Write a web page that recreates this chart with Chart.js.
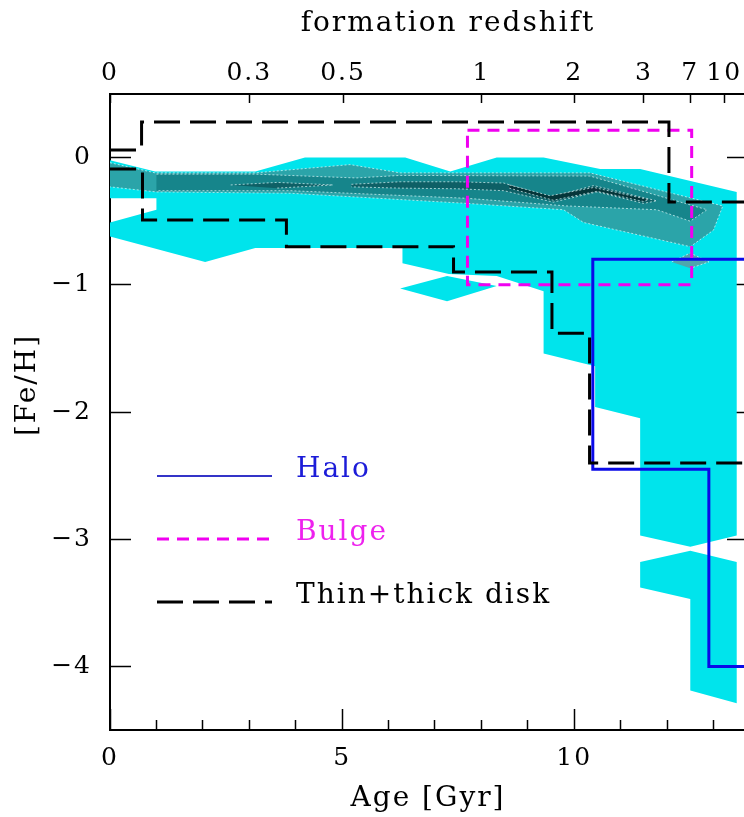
<!DOCTYPE html>
<html lang="en">
<head>
<meta charset="UTF-8" />
<title>[Fe/H] versus age</title>
<script src="https://cdn.jsdelivr.net/npm/chart.js"></script>
<style>
  html, body { margin: 0; padding: 0; background: #fff; overflow: hidden; }
  .wrap { width: 744px; height: 817px; overflow: hidden; }
  canvas { display: block; }
</style>
</head>
<body>
<div class="wrap"><canvas id="fehChart" width="748" height="817"></canvas></div>

<script>
  // axes
  const ageTicks = [0, 1, 2, 3, 4, 5, 6, 7, 8, 9, 10, 11, 12, 13];
  const ageMajor = [0, 5, 10];
  const fehTicks = [-4, -3, -2, -1, 0];
  const fehTickLabels = ['−4', '−3', '−2', '−1', '0'];
  // formation redshift marks, placed at the matching age
  const zAges = [0, 3.0, 5.02, 8.0, 10.0, 11.5, 12.5, 13.23];
  const zLabels = ['0', '0.3', '0.5', '1', '2', '3', '7', '10'];

  // simulated stars, outer contour level (age, [Fe/H])
  const simOuter = [[0, -0.02], [0.97, -0.11], [3.13, -0.11], [4.2, 0.0], [6.36, 0.0], [7.33, -0.11],
    [8.33, 0.0], [9.34, 0.0], [10.56, -0.09], [11.42, -0.09], [13.5, -0.27], [13.5, -2.97],
    [12.5, -3.06], [11.42, -2.97], [11.42, -2.05], [10.45, -1.96], [10.45, -1.64], [9.34, -1.54],
    [9.34, -1.05], [8.33, -0.93], [7.3, -0.915], [6.3, -0.83], [6.3, -0.71], [3.13, -0.71],
    [2.05, -0.82], [0, -0.62], [0, -0.51], [1.0, -0.41], [1.0, -0.32], [0, -0.32]];
  const simOuterIsle = [[6.25, -1.03], [7.26, -0.93], [8.33, -1.01], [7.26, -1.13]];
  const simOuterTail = [[11.42, -3.18], [12.5, -3.09], [13.5, -3.18], [13.5, -4.29], [12.5, -4.19],
    [12.5, -3.47], [11.42, -3.38]];
  // inner contour levels
  const simLevel1 = [[0, -0.04], [0.97, -0.12], [3.13, -0.12], [5.17, -0.055], [6.25, -0.12],
    [10.34, -0.12], [13.2, -0.38], [13.0, -0.57], [12.5, -0.70], [10.2, -0.51], [9.77, -0.41],
    [7.69, -0.36], [3.88, -0.28], [1.0, -0.27], [0, -0.23]];
  const simLevel1Spot = [[12.1, -0.82], [12.5, -0.75], [12.9, -0.82], [12.5, -0.87]];
  const simLevel2 = [[1.0, -0.13], [3.13, -0.13], [5.3, -0.16], [6.25, -0.14], [10.34, -0.145],
    [12.86, -0.41], [12.5, -0.50], [11.78, -0.41], [9.84, -0.38], [7.69, -0.32], [3.88, -0.26],
    [1.0, -0.26]];
  const simLevel3 = [[5.2, -0.21], [6.25, -0.19], [7.47, -0.19], [8.48, -0.20], [9.48, -0.31],
    [10.42, -0.22], [11.78, -0.34], [11.49, -0.36], [10.49, -0.27], [9.55, -0.35], [8.48, -0.26],
    [7.47, -0.245], [6.25, -0.24], [5.2, -0.23]];
  const simLevel3Lens = [[2.6, -0.215], [3.6, -0.195], [4.8, -0.215], [3.6, -0.24]];
  const simLevel4 = [[8.6, -0.215], [9.48, -0.30], [10.42, -0.235], [11.6, -0.33], [11.49, -0.345],
    [10.49, -0.265], [9.55, -0.335], [8.6, -0.24]];

  // observed components
  const haloBox = [[13.7, -0.8], [10.4, -0.8], [10.4, -2.45], [12.9, -2.45], [12.9, -4.0], [13.7, -4.0]];
  const bulgeBox = [[7.7, 0.215], [12.53, 0.215], [12.53, -1.0], [7.7, -1.0], [7.7, 0.215]];
  const diskUpper = [[0, 0.06], [0.68, 0.06], [0.68, 0.28], [12.04, 0.28], [12.04, -0.35], [13.7, -0.35]];
  const diskLower = [[0, -0.09], [0.7, -0.09], [0.7, -0.49], [3.8, -0.49], [3.8, -0.70], [7.4, -0.70],
    [7.4, -0.90], [9.52, -0.90], [9.52, -1.38], [10.33, -1.38], [10.33, -2.40], [13.7, -2.40]];

  const keyRows = [
    { label: 'Halo', line: '#3434c8', text: '#1c1cd8', width: 2, dash: [] },
    { label: 'Bulge', line: '#f000f0', text: '#ee22ee', width: 3, dash: [12, 8] },
    { label: 'Thin+thick disk', line: '#000', text: '#000', width: 3, dash: [26, 10] }
  ];

  const pts = list => list.map(([x, y]) => ({ x, y }));
  const tickFont = { family: 'DejaVu Serif', size: 25 };
  const titleFont = { family: 'DejaVu Serif', size: 28 };

  function level(pairs, color, order, outline) {
    return {
      data: pts(pairs),
      fill: 'shape',
      backgroundColor: color,
      borderColor: outline ? 'rgba(235,255,255,0.65)' : 'transparent',
      borderWidth: outline ? 1 : 0,
      borderDash: outline ? [2, 2] : [],
      pointRadius: 0,
      order
    };
  }

  function step(pairs, color, dash, order) {
    return {
      data: pts(pairs),
      fill: false,
      borderColor: color,
      borderWidth: 3,
      borderDash: dash,
      borderCapStyle: 'butt',
      borderJoinStyle: 'miter',
      pointRadius: 0,
      order
    };
  }

  // wider letter spacing for every label on the canvas
  const spacing = {
    id: 'spacing',
    beforeLayout(chart) { chart.ctx.letterSpacing = '2px'; },
    beforeDraw(chart) { chart.ctx.letterSpacing = '2px'; }
  };

  // key box, upper title and the [Fe/H] label
  const extras = {
    id: 'extras',
    afterDraw(chart) {
      const { ctx, chartArea: a } = chart;
      ctx.save();
      ctx.letterSpacing = '2px';
      ctx.font = '28px "DejaVu Serif"';
      ctx.textBaseline = 'alphabetic';
      keyRows.forEach((row, i) => {
        const y = a.top + 382 + i * 63;
        ctx.strokeStyle = row.line;
        ctx.lineWidth = row.width;
        ctx.setLineDash(row.dash);
        ctx.beginPath();
        ctx.moveTo(a.left + 47, y);
        ctx.lineTo(a.left + 162, y);
        ctx.stroke();
        ctx.fillStyle = row.text;
        ctx.textAlign = 'left';
        ctx.fillText(row.label, a.left + 186, y + 1);
      });
      ctx.fillStyle = '#000';
      ctx.textAlign = 'center';
      ctx.fillText('formation redshift', a.left + 338, 31);
      ctx.translate(28, 385);
      ctx.rotate(-Math.PI / 2);
      ctx.textBaseline = 'middle';
      ctx.fillText('[Fe/H]', 0, 0);
      ctx.restore();
    }
  };

  const frame = { color: '#000', width: 2 };
  const tickGrid = len => ({ drawOnChartArea: false, tickLength: len, tickWidth: 1.5, tickColor: '#000' });
  // fixed box sizes; no extra room for labels at the ends
  const fixSize = (key, size) => ax => {
    ax[key] = size;
    ax.paddingLeft = ax.paddingRight = ax.paddingTop = ax.paddingBottom = 0;
  };

  new Chart(document.getElementById('fehChart'), {
    type: 'line',
    data: {
      datasets: [
        step(diskUpper, '#000', [26, 10], 1),
        step(diskLower, '#000', [26, 10], 1),
        step(bulgeBox, '#f000f0', [12, 8], 2),
        step(haloBox, '#0a0ae8', [], 3),
        level(simLevel4, '#05363a', 6, true),
        level(simLevel3, '#0e6066', 7, true),
        level(simLevel3Lens, '#0e6066', 7, true),
        level(simLevel2, '#16858b', 8, true),
        level(simLevel1, '#2ba4a9', 9, true),
        level(simLevel1Spot, '#4fa7ac', 9, true),
        level(simOuter, '#00e4ec', 10, false),
        level(simOuterIsle, '#00e4ec', 10, false),
        level(simOuterTail, '#00e4ec', 10, false)
      ]
    },
    options: {
      responsive: false,
      animation: false,
      events: [],
      layout: { padding: 0 },
      plugins: { legend: { display: false }, tooltip: { enabled: false } },
      scales: {
        x: {
          type: 'linear', position: 'bottom', min: 0, max: 13.7,
          afterBuildTicks: ax => { ax.ticks = ageTicks.map(value => ({ value })); },
          afterFit: fixSize('height', 87),
          grid: Object.assign(tickGrid(-21), {
            tickBorderDash: c => ageMajor.includes(c.tick.value) ? [] : [11, 40]
          }),
          border: frame,
          ticks: {
            color: '#000', font: tickFont, padding: 34, maxRotation: 0, autoSkip: false,
            callback: v => ageMajor.includes(v) ? String(v) : ''
          },
          title: { display: true, text: 'Age [Gyr]', color: '#000', font: titleFont, padding: { top: 0, bottom: 1 } }
        },
        xTop: {
          type: 'linear', position: 'top', min: 0, max: 13.7,
          afterBuildTicks: ax => { ax.ticks = zAges.map(value => ({ value })); },
          afterFit: fixSize('height', 94),
          grid: tickGrid(-9),
          border: frame,
          ticks: {
            color: '#000', font: tickFont, padding: 15, maxRotation: 0, autoSkip: false,
            callback: (v, i) => zLabels[i]
          }
        },
        y: {
          type: 'linear', position: 'left', min: -4.5, max: 0.5,
          afterBuildTicks: ax => { ax.ticks = fehTicks.map(value => ({ value })); },
          afterFit: fixSize('width', 110),
          grid: tickGrid(-21),
          border: frame,
          ticks: {
            color: '#000', font: tickFont, padding: 39, autoSkip: false,
            callback: (v, i) => fehTickLabels[i]
          }
        },
        yRight: {
          type: 'linear', position: 'right', min: -4.5, max: 0.5,
          afterBuildTicks: ax => { ax.ticks = fehTicks.map(value => ({ value })); },
          afterFit: fixSize('width', 2),
          grid: tickGrid(-19),
          border: frame,
          ticks: { autoSkip: false, callback: () => '' }
        }
      }
    },
    plugins: [spacing, extras]
  });
</script>
</body>
</html>
